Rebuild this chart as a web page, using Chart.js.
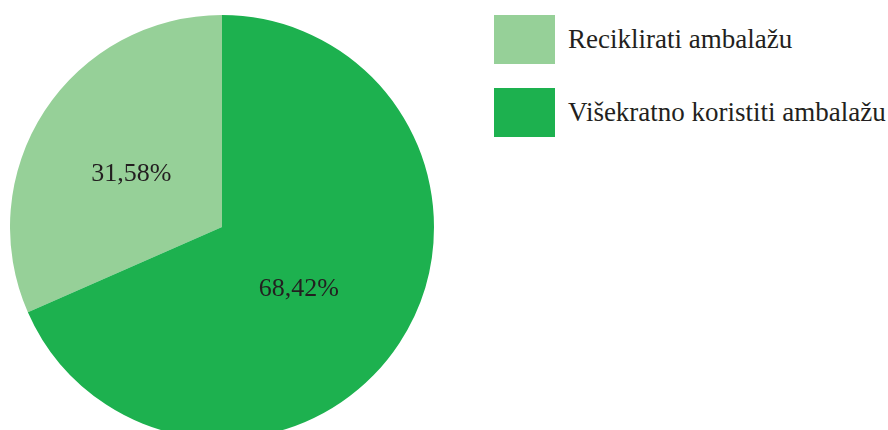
<!DOCTYPE html>
<html>
<head>
<meta charset="utf-8">
<script src="https://cdn.jsdelivr.net/npm/chart.js@4"></script>
<style>
html,body{margin:0;padding:0;width:888px;height:430px;overflow:hidden;background:#fff;}
#wrap{position:absolute;left:10px;top:15px;width:424px;height:424px;}
#legend{position:absolute;left:494px;top:15px;font-family:"Liberation Serif","Times New Roman",serif;font-size:27px;color:#231f20;}
.item{position:absolute;left:0;height:49px;white-space:nowrap;}
.box{position:absolute;left:0;top:0;width:61px;height:49px;}
.lbl{position:absolute;left:74px;top:0;line-height:49px;}
</style>
</head>
<body>
<div id="wrap"><canvas id="c" width="424" height="424"></canvas></div>
<div id="legend"></div>
<script>
const categories = ["Reciklirati ambalažu", "Višekratno koristiti ambalažu"];
const values = [31.58, 68.42];
const valueLabels = ["31,58%", "68,42%"];
const colors = ["#96d098", "#1db14f"];

const legend = document.getElementById('legend');
categories.forEach((name, i) => {
  const it = document.createElement('div');
  it.className = 'item';
  it.style.top = (i * 73) + 'px';
  it.innerHTML = '<div class="box" style="background:' + colors[i] + '"></div><div class="lbl">' + name + '</div>';
  legend.appendChild(it);
});

const labelNudge = [[-2, 5], [-12, 4]];
const labelPlugin = {
  id: 'sliceLabels',
  afterDatasetsDraw(chart) {
    const ctx = chart.ctx;
    const meta = chart.getDatasetMeta(0);
    ctx.save();
    ctx.font = '26px "Liberation Serif", "Times New Roman", serif';
    ctx.fillStyle = '#231f20';
    ctx.textAlign = 'center';
    ctx.textBaseline = 'middle';
    meta.data.forEach((arc, i) => {
      const p = arc.tooltipPosition();
      ctx.fillText(valueLabels[i], p.x + labelNudge[i][0], p.y + labelNudge[i][1]);
    });
    ctx.restore();
  }
};

new Chart(document.getElementById('c'), {
  type: 'pie',
  data: {
    labels: categories,
    datasets: [{
      data: values,
      backgroundColor: colors,
      borderWidth: 0
    }]
  },
  options: {
    responsive: false,
    animation: false,
    rotation: -values[0] / 100 * 360,
    layout: { padding: 0 },
    plugins: {
      legend: { display: false },
      tooltip: { enabled: false }
    }
  },
  plugins: [labelPlugin]
});
</script>
</body>
</html>
